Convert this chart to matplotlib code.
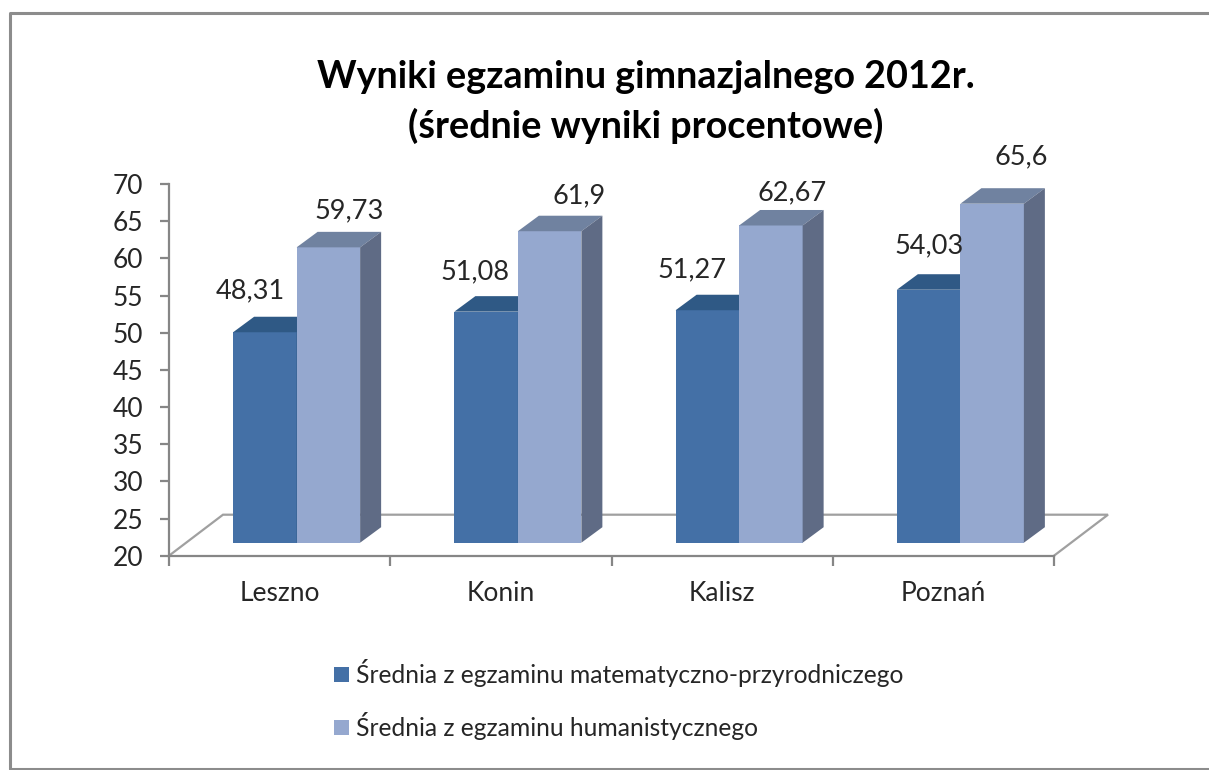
import matplotlib
matplotlib.use("Agg")
import matplotlib.pyplot as plt
from matplotlib.patches import Polygon
import numpy as np

plt.rcParams['font.family'] = ['Lato', 'DejaVu Sans']

miasta = ["Leszno", "Konin", "Kalisz", "Poznań"]
matematyka = [48.31, 51.08, 51.27, 54.03]
humanistyka = [59.73, 61.9, 62.67, 65.6]
etykiety_mat = ["48,31", "51,08", "51,27", "54,03"]
etykiety_hum = ["59,73", "61,9", "62,67", "65,6"]
nazwy = ["Średnia z egzaminu matematyczno-przyrodniczego", "Średnia z egzaminu humanistycznego"]
yticks = list(range(20, 75, 5))

W, H = 1209, 770
fig = plt.figure(figsize=(W / 100, H / 100), dpi=100, facecolor="white")

# wszystko w pikselach obrazka -> pozycja osi
x0, x1 = 169, 1054
ytop, ybot = 184, 555.7
ax = fig.add_axes([x0 / W, 1 - ybot / H, (x1 - x0) / W, (ybot - ytop) / H])
ax.set_xlim(0, 4)
ax.set_ylim(20, 70)
ax.patch.set_alpha(0)

px = 4 / (x1 - x0)  # piksel w jednostkach x
py = 50 / (ybot - ytop)  # piksel w jednostkach y

szary = "#868686"
tekst = "#262626"
blue, blue_top = "#4470a6", "#2f5985"
light, light_top, light_side = "#95a8cf", "#7082a0", "#5f6b85"

# ramka wykresu (bez prawej krawedzi)
fig.add_artist(plt.Line2D([1209 / W, 10 / W, 10 / W, 1209 / W],
                          [1 - 13 / H, 1 - 13 / H, 1 - 769 / H, 1 - 769 / H],
                          color="#8c8c8c", lw=2.2))

# podloga
dx_f, dy_f = 54 * px, 41 * py
ax.plot([0, dx_f, 4 + dx_f, 4], [20, 20 + dy_f, 20 + dy_f, 20], color="#a0a0a0", lw=1.6,
        clip_on=False, zorder=1, solid_joinstyle="miter")

# slupki
pos = np.arange(4) + 0.5 + 17 * px
w = 63.5 * px
off = 13 * py  # slupki stoja w srodku podlogi
dol = 20 + off
dx, dy = 21 * px, 15.5 * py


def slupki(xs, vals, front, top, side, z):
    vals = np.array(vals)
    b = ax.bar(xs, vals - 20, width=w, bottom=dol, color=front, zorder=z, align="edge", clip_on=False)
    for x, v in zip(xs, vals + off):
        ax.add_patch(Polygon([(x, v), (x + dx, v + dy), (x + w + dx, v + dy), (x + w, v)],
                             facecolor=top, edgecolor="none", zorder=z, clip_on=False))
        ax.add_patch(Polygon([(x + w, v), (x + w + dx, v + dy), (x + w + dx, dol + dy), (x + w, dol)],
                             facecolor=side, edgecolor="none", zorder=z, clip_on=False))
    return b


b1 = slupki(pos - w, matematyka, blue, blue_top, blue_top, 3)
b2 = slupki(pos, humanistyka, light, light_top, light_side, 4)

# opisy wartosci (przesuniecia w pikselach)
dx_mat = [-15, -11, -15, 0]
dy_mat = [41, 40, 40, 44]
dy_hum = [37, 35, 33, 47]
for i in range(4):
    ax.text(pos[i] - w / 2 + dx_mat[i] * px, matematyka[i] + off + dy_mat[i] * py, etykiety_mat[i],
            ha="center", va="center", fontsize=19.5, color=tekst, zorder=6)
    ax.text(pos[i] + w + 24 * px, humanistyka[i] + off + dy_hum[i] * py, etykiety_hum[i],
            ha="right", va="center", fontsize=19.5, color=tekst, zorder=6)

# osie
for s in ["top", "right"]:
    ax.spines[s].set_visible(False)
for s in ["left", "bottom"]:
    ax.spines[s].set_color(szary)
    ax.spines[s].set_linewidth(1.6)
    ax.spines[s].set_zorder(2)
ax.set_yticks(yticks)
ax.set_xticks(range(5))
ax.set_xticklabels([])
ax.tick_params(axis="y", length=6.5, width=1.6, color=szary, labelsize=19, labelcolor=tekst, pad=12)
ax.tick_params(axis="x", length=7.5, width=1.6, color=szary)
for i, m in enumerate(miasta):
    ax.annotate(m, (i + 0.5, 20), xytext=(0, -38 * 0.72), textcoords="offset points",
                ha="center", va="center", fontsize=19, color=tekst)

# tytul
fig.text(646 / W, 1 - 102 / H, "Wyniki egzaminu gimnazjalnego 2012r.\n(średnie wyniki procentowe)",
         ha="center", va="center", fontsize=27.2, fontweight="bold", color="black", linespacing=1.45)

# legenda
fig.legend([b1, b2], nazwy, loc="upper left", bbox_to_anchor=(327 / W, 1 - 651.5 / H), frameon=False,
           fontsize=17.7, labelcolor=tekst, handlelength=0.58, handleheight=0.58, handletextpad=0.3,
           labelspacing=1.03, borderaxespad=0, borderpad=0.3)

fig.savefig("out.png", dpi=100)
